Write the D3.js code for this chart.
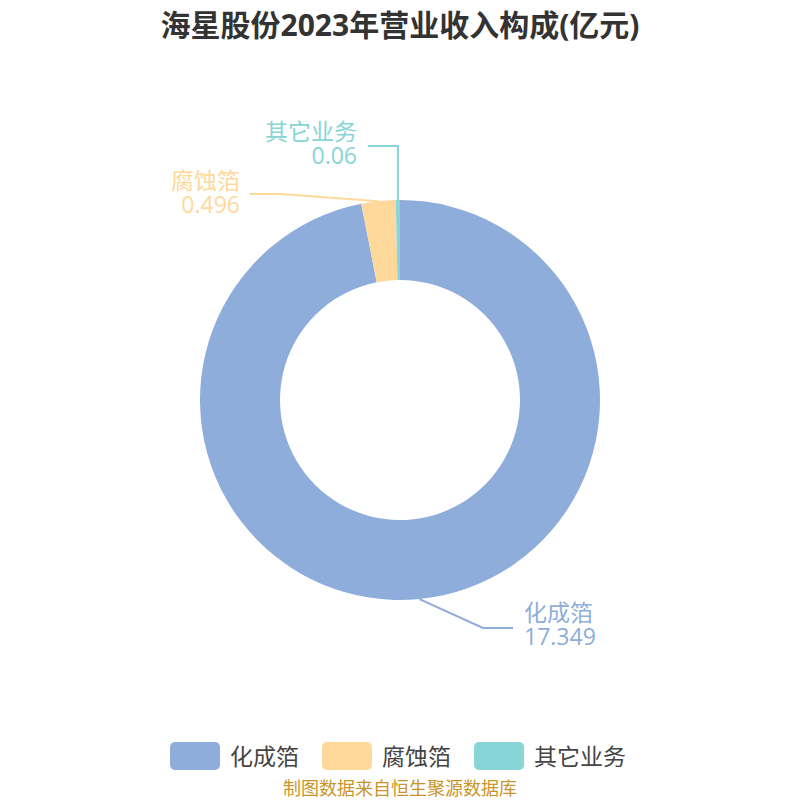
<!DOCTYPE html>
<html><head><meta charset="utf-8">
<script src="https://cdn.jsdelivr.net/npm/d3@7/dist/d3.min.js"></script>
<style>body{margin:0;background:#fff;} svg{display:block;font-family:"Open Sans","Noto Sans CJK SC",sans-serif;}</style>
</head><body>
<svg id="c" width="800" height="800"></svg>
<script>
const title = "海星股份2023年营业收入构成(亿元)";
const categories = ["化成箔", "腐蚀箔", "其它业务"];
const values = [17.349, 0.496, 0.06];
const valueLabels = ["17.349", "0.496", "0.06"];
const colors = ["#8eaddb", "#fed99b", "#87d5d6"];
const source = "制图数据来自恒生聚源数据库";

// label layout (elbow + text anchor), relative to chart centre
const labelLayout = [
  {ex: 83, ey: 228, lx: 113, tx: 124, anchor: "start", ny: 213},
  {ex: -120, ey: -206, lx: -150, tx: -160, anchor: "end", ny: -219},
  {ex: -2.5, ey: -254, lx: -32, tx: -43, anchor: "end", ny: -268, vertical: true}
];
const lineGap = 24;

const svg = d3.select("#c");
const cx = 400, cy = 400, rOuter = 200, rInner = 120;

svg.append("text").attr("x", 400).attr("y", 24).attr("text-anchor", "middle")
  .attr("dominant-baseline", "central").attr("font-size", 30).attr("font-weight", "bold")
  .attr("fill", "#333").text(title);

const data = categories.map((c, i) => ({name: c, value: values[i], label: valueLabels[i], color: colors[i], lay: labelLayout[i]}));
const pie = d3.pie().value(d => d.value).sort(null);
const arcs = pie(data);
const arc = d3.arc().innerRadius(rInner).outerRadius(rOuter);
const g = svg.append("g").attr("transform", `translate(${cx},${cy})`);

g.selectAll("path.slice").data(arcs).join("path").attr("class", "slice")
  .attr("d", arc).attr("fill", d => d.data.color);

arcs.forEach(a => {
  const mid = (a.startAngle + a.endAngle) / 2;
  const sx = rOuter * Math.sin(mid), sy = -rOuter * Math.cos(mid);
  const L = a.data.lay;
  let pts;
  if (L.vertical) pts = [[sx, sy], [sx, L.ey], [L.lx, L.ey]];
  else pts = [[sx, sy], [L.ex, L.ey], [L.lx, L.ey]];
  g.append("path").attr("d", d3.line()(pts)).attr("fill", "none")
    .attr("stroke", a.data.color).attr("stroke-width", 2);
  const t = g.append("text").attr("text-anchor", L.anchor)
    .attr("font-size", 23).attr("fill", a.data.color);
  t.append("tspan").attr("x", L.tx).attr("y", L.ny + 8).text(a.data.name);
  t.append("tspan").attr("x", L.tx).attr("y", L.ny + 8 + lineGap).text(a.data.label);
});

// legend
const legendX = [170, 322, 474];
const lg = svg.append("g");
data.forEach((d, i) => {
  lg.append("rect").attr("x", legendX[i]).attr("y", 742).attr("width", 50).attr("height", 28)
    .attr("rx", 5).attr("fill", d.color);
  lg.append("text").attr("x", legendX[i] + 60).attr("y", 756).attr("dominant-baseline", "central")
    .attr("font-size", 23).attr("fill", "#444").text(d.name);
});

svg.append("text").attr("x", 400).attr("y", 788).attr("text-anchor", "middle")
  .attr("dominant-baseline", "central").attr("font-size", 18).attr("fill", "#c9952a").text(source);
</script>
</body></html>
